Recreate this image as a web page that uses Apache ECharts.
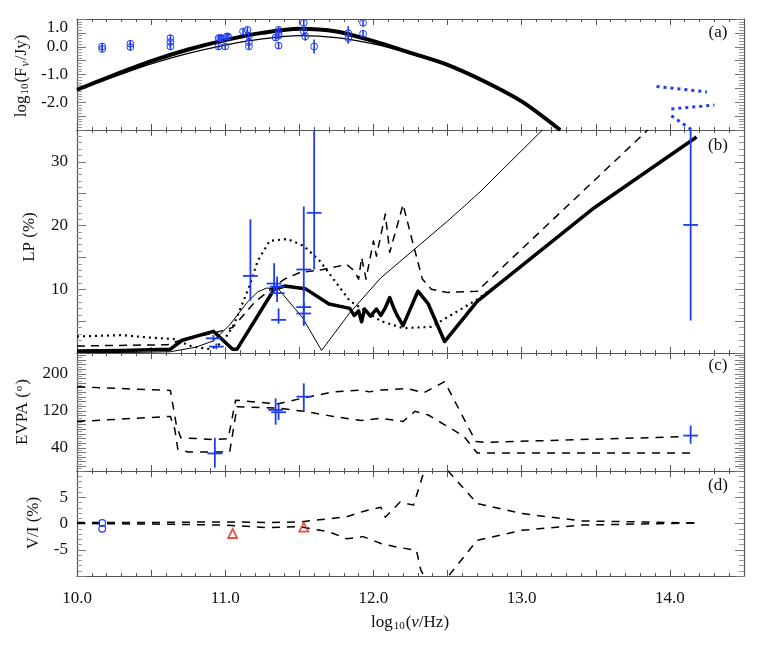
<!DOCTYPE html>
<html><head><meta charset="utf-8">
<script src="https://cdn.jsdelivr.net/npm/echarts@6/dist/echarts.min.js"></script>
<style>html,body{margin:0;padding:0;background:#fff}#c{width:763px;height:654px}</style>
</head><body><div id="c"></div>
<script>
// ---------- data ----------
const xTickLabels = [10, 11, 12, 13, 14];
// panel (a) log10 flux
const fluxThick = [[10.0,-1.55],[10.25,-1.02],[10.5,-0.52],[10.75,-0.1],[11.0,0.24],[11.25,0.5],[11.5,0.65],[11.75,0.55],[12.0,0.2],[12.25,-0.22],[12.5,-0.65],[12.75,-1.25],[13.0,-1.97],[13.26,-3.0]];
const fluxThin = [[10.0,-1.55],[10.25,-1.08],[10.5,-0.62],[10.75,-0.24],[11.0,0.06],[11.25,0.28],[11.5,0.40],[11.75,0.33],[12.0,0.1],[12.25,-0.25],[12.5,-0.68],[12.75,-1.27],[13.0,-1.98],[13.26,-3.0]];
// [x, y, err]
const fluxObs = [[10.17,0.01,0.05],[10.17,-0.08,0.05],[10.36,0.11,0.05],[10.36,-0.01,0.05],[10.63,0.31,0.05],[10.63,0.17,0.05],[10.63,0.01,0.05],
  [10.955,0.31,0.08],[10.966,0.31,0.08],[10.978,0.31,0.08],[10.955,0.01,0.08],[11.0,0.01,0.08],[11.01,0.37,0.05],[11.02,0.37,0.05],
  [11.12,0.55,0.08],[11.15,0.61,0.1],[11.16,0.4,0.1],[11.16,0.16,0.12],[11.16,0.01,0.1],
  [11.34,0.33,0.1],[11.36,0.61,0.08],[11.36,0.49,0.1],[11.36,0.40,0.1],[11.36,0.04,0.05],
  [11.53,0.86,0.08],[11.53,0.55,0.15],[11.54,0.37,0.15],[11.60,0.01,0.25],
  [11.83,0.49,0.25],[11.83,0.31,0.2],[11.93,0.86,0.08],[11.93,0.47,0.12]];
const hiFreq1 = [[13.91,-1.43],[14.25,-1.63]];
const hiFreq2 = [[14.01,-2.24],[14.30,-2.10]];
const hiFreq3 = [[14.01,-2.49],[14.15,-3.0]];
// panel (b) LP %
const lpThick = [[10.0,0.3],[10.3,0.4],[10.63,0.6],[10.71,2.0],[10.92,3.4],[11.05,0.6],[11.08,0.6],[11.33,10.0],[11.40,10.5],[11.54,10.1],[11.70,7.7],[11.84,7.0],[11.87,5.9],[11.90,6.6],[11.92,4.9],[11.94,6.9],[11.98,5.8],[12.02,6.9],[12.05,5.9],[12.08,7.1],[12.11,8.7],[12.14,6.9],[12.16,5.9],[12.20,4.3],[12.30,9.7],[12.37,7.7],[12.48,1.8],[12.70,8.1],[13.49,22.8],[14.18,33.9]];
const lpThin = [[10.0,0.05],[10.4,0.1],[10.63,0.2],[10.80,0.9],[10.92,1.9],[11.03,4.4],[11.15,8.0],[11.22,9.6],[11.28,10.2],[11.36,10.0],[11.52,5.6],[11.65,0.4],[11.84,6.3],[12.05,11.8],[12.5,20.7],[12.72,25.3],[13.14,35]];
const lpDashed = [[10.0,1.1],[10.61,1.3],[10.71,2.1],[10.92,3.1],[11.05,4.0],[11.20,8.0],[11.33,10.4],[11.40,11.6],[11.50,12.6],[11.66,13.1],[11.82,13.9],[11.87,12.9],[11.90,11.6],[11.92,15.0],[11.95,11.6],[12.00,17.6],[12.02,15.2],[12.08,21.8],[12.11,15.8],[12.20,23.3],[12.26,17.8],[12.33,11.6],[12.39,10.0],[12.50,9.5],[12.70,9.7],[13.85,35]];
const lpDotted = [[10.0,2.6],[10.3,2.8],[10.5,2.4],[10.65,2.2],[10.78,1.0],[10.90,0.6],[10.98,1.6],[11.06,4.5],[11.16,10.3],[11.22,14.5],[11.30,17.6],[11.42,17.9],[11.53,16.8],[11.64,14.4],[11.84,8.2],[12.05,5.0],[12.20,3.9],[12.39,4.1],[12.70,8.4],[12.90,11.8]];
// [x, y, low, high]
const lpObs = [[10.92,2.3,1.8,2.8],[10.94,1.0,0.6,1.5],[11.17,12.1,8.2,21.0],[11.33,10.9,9.5,14.1],[11.35,10.4,9.0,12.0],[11.35,9.4,8.0,11.0],[11.36,5.2,4.6,7.0],[11.53,13.1,9.0,23.0],[11.53,7.2,4.3,10.5],[11.53,6.2,4.3,8.0],[11.60,22.0,13.1,40],[14.14,20.1,5.1,40]];
// panel (c) EVPA
const evpaUpper = [[10.0,172],[10.63,164],[10.67,90],[10.70,62],[10.92,58],[11.02,60],[11.07,143],[11.35,135],[11.53,148],[11.73,161],[11.92,165],[11.97,161],[12.05,165],[12.23,168],[12.34,159],[12.48,183],[12.69,54],[12.75,52],[14.07,64]];
const evpaLower = [[10.0,97],[10.63,108],[10.66,80],[10.68,37],[10.75,31],[11.03,31],[11.08,129],[11.35,126],[11.53,119],[11.73,108],[11.92,99],[12.05,104],[12.20,97],[12.28,119],[12.37,111],[12.61,65],[12.70,29],[14.18,29]];
const evpaObs = [[10.93,27.9,-2.7,61.6],[11.34,122,90,147],[11.36,117,100,135],[11.53,150.7,118.6,179.4],[14.14,66.5,49,88]];
// panel (d) V/I
const vUpper = [[10.0,0.2],[10.5,0.2],[11.0,0.3],[11.3,0.2],[11.5,0.3],[11.7,0.9],[11.82,1.3],[11.93,2.3],[12.05,3.1],[12.08,1.2],[12.18,4.1],[12.27,3.5],[12.34,9.8],[12.42,14],[12.51,9.8],[12.70,3.8],[13.0,1.9],[13.4,0.5],[14.18,0.1]];
const vLower = [[10.0,0.0],[10.5,-0.1],[11.0,-0.3],[11.3,-0.8],[11.5,-0.6],[11.7,-1.6],[11.82,-2.9],[11.93,-2.5],[12.05,-3.8],[12.16,-4.5],[12.29,-5.1],[12.32,-8.9],[12.42,-14],[12.52,-9.5],[12.70,-3.2],[13.0,-1.3],[13.4,-0.3],[14.18,0.1]];
const vCirc = [[10.17,0.1],[10.17,-1.0]];
const vTri = [[11.05,-1.9],[11.53,-0.7]];

// ---------- layout ----------
const BLUE = '#1f3cf0', RED = '#e3261c', AX = '#555';
const FONT = '"Liberation Serif","DejaVu Serif",serif';
const grids = [
  {left:77, right:19, top:19, height:111},
  {left:77, right:19, top:130, height:223},
  {left:77, right:19, top:353, height:118},
  {left:77, right:19, top:471, height:105}
];
const yCfg = [
  {min:-3, max:1, interval:0.5, split:5, labels:[-2,-1,0,1], fmt:v=>v.toFixed(1)},
  {min:0, max:35, interval:5, split:5, labels:[10,20,30], fmt:v=>String(v)},
  {min:-10, max:245, interval:10, split:2, labels:[40,120,200], fmt:v=>String(v)},
  {min:-10, max:10, interval:5, split:5, labels:[-5,0,5], fmt:v=>String(v)}
];
const xAxes = [], yAxes = [];
grids.forEach((g, i) => {
  ['bottom','top'].forEach((pos, k) => {
    xAxes.push({
      type:'value', gridIndex:i, position:pos, min:10, max:14.5, interval:0.5,
      axisLine:{show:true, onZero:false, lineStyle:{color:AX, width:1.2}},
      axisTick:{show:true, inside:true, length:6, lineStyle:{color:AX}},
      minorTick:{show:true, splitNumber:5, length:3, lineStyle:{color:AX}},
      splitLine:{show:false},
      axisLabel:{show: i===3 && k===0, customValues:xTickLabels, formatter:v=>v.toFixed(1),
        fontFamily:FONT, fontSize:17, color:'#111', margin:14}
    });
  });
  const c = yCfg[i];
  ['left','right'].forEach((pos, k) => {
    yAxes.push({
      type:'value', gridIndex:i, position:pos, min:c.min, max:c.max, interval:c.interval,
      axisLine:{show:true, onZero:false, lineStyle:{color:AX, width:1.2}},
      axisTick:{show:true, inside:true, length:9, lineStyle:{color:'#777'}},
      minorTick:{show:true, splitNumber:c.split, length:5, lineStyle:{color:'#999'}},
      splitLine:{show:false},
      axisLabel:{show:k===0, customValues:c.labels, formatter:c.fmt,
        fontFamily:FONT, fontSize:17, color:'#111', margin:9,
        verticalAlignMaxLabel: i===0 ? 'top' : undefined}
    });
  });
});

function clampY(cs, v){ return Math.max(cs.y, Math.min(cs.y + cs.height, v)); }
function renderCircleErr(params, api){
  const x = api.value(0), y = api.value(1), e = Math.max(api.value(2), 0.12);
  const cs = params.coordSys;
  const c = api.coord([x,y]), t = api.coord([x,y+e]), b = api.coord([x,y-e]);
  return {type:'group', children:[
    {type:'line', shape:{x1:c[0], y1:clampY(cs,t[1]), x2:c[0], y2:clampY(cs,b[1])}, style:{stroke:BLUE, lineWidth:1.6}},
    {type:'circle', shape:{cx:c[0], cy:c[1], r:3.4}, style:{fill:'none', stroke:BLUE, lineWidth:1}}
  ]};
}
function renderCross(params, api){
  const x = api.value(0), y = api.value(1), lo = api.value(2), hi = api.value(3);
  const cs = params.coordSys;
  const c = api.coord([x,y]), t = api.coord([x,hi]), b = api.coord([x,lo]);
  const l = api.coord([x-0.05,y]), r = api.coord([x+0.05,y]);
  return {type:'group', children:[
    {type:'line', shape:{x1:c[0], y1:clampY(cs,t[1]), x2:c[0], y2:clampY(cs,b[1])}, style:{stroke:BLUE, lineWidth:1.8}},
    {type:'line', shape:{x1:l[0], y1:c[1], x2:r[0], y2:c[1]}, style:{stroke:BLUE, lineWidth:1.8}}
  ]};
}
function renderCircle(params, api){
  const c = api.coord([api.value(0), api.value(1)]);
  return {type:'circle', shape:{cx:c[0], cy:c[1], r:3.4}, style:{fill:'none', stroke:BLUE, lineWidth:1.2}};
}
function line(data, gi, style, smooth){
  return {type:'line', xAxisIndex:gi*2, yAxisIndex:gi*2, data, showSymbol:false, symbol:'none',
    smooth: smooth || false, clip:true, lineStyle:Object.assign({color:'#000', cap:'butt', join:'round'}, style), silent:true, animation:false, z:2};
}
const series = [
  line(fluxThin, 0, {width:1.3}, 0.3),
  line(fluxThick, 0, {width:4}, 0.3),
  {type:'custom', xAxisIndex:0, yAxisIndex:0, data:fluxObs, renderItem:renderCircleErr, animation:false, z:3},
  line(hiFreq1, 0, {width:3, color:BLUE, type:[3,4]}),
  line(hiFreq2, 0, {width:3, color:BLUE, type:[3,4]}),
  line(hiFreq3, 0, {width:3, color:BLUE, type:[3,4]}),

  line(lpThin, 1, {width:1}),
  line(lpDashed, 1, {width:1.5, type:[8,6]}),
  line(lpDotted, 1, {width:2.2, type:[2,4]}),
  line(lpThick, 1, {width:3.5}),
  {type:'custom', xAxisIndex:2, yAxisIndex:2, data:lpObs, renderItem:renderCross, animation:false, z:3},

  line(evpaUpper, 2, {width:1.5, type:[8,7]}),
  line(evpaLower, 2, {width:1.5, type:[8,7]}),
  {type:'custom', xAxisIndex:4, yAxisIndex:4, data:evpaObs, renderItem:renderCross, animation:false, z:3},

  line(vUpper, 3, {width:1.5, type:[8,7]}),
  line(vLower, 3, {width:1.5, type:[8,7]}),
  {type:'custom', xAxisIndex:6, yAxisIndex:6, data:vCirc, renderItem:renderCircle, animation:false, z:3},
  {type:'scatter', xAxisIndex:6, yAxisIndex:6, data:vTri, symbol:'triangle', symbolSize:9,
    itemStyle:{color:'rgba(0,0,0,0)', borderColor:RED, borderWidth:1.8}, animation:false, z:3}
];

const rich = {
  n:{fontFamily:FONT, fontSize:17, color:'#111'},
  s:{fontFamily:FONT, fontSize:11, color:'#111', padding:[7,1,0,1]},
  sup:{fontFamily:FONT, fontSize:11, color:'#111', padding:[0,1,8,1]},
  i:{fontFamily:FONT, fontSize:17, fontStyle:'italic', color:'#111'},
  si:{fontFamily:FONT, fontSize:12, fontStyle:'italic', color:'#111', padding:[7,1,0,1]}
};
function vText(x, y, text){
  return {type:'text', x, y, rotation:Math.PI/2, silent:true,
    style:{text, rich, fontFamily:FONT, fontSize:17, fill:'#111', align:'center', verticalAlign:'middle'}};
}
function hText(x, y, text){
  return {type:'text', x, y, silent:true,
    style:{text, rich, fontFamily:FONT, fontSize:17, fill:'#111', align:'center', verticalAlign:'middle'}};
}
const graphic = [
  vText(22, 76, '{n|log}{s|10}{n|(F}{si|ν}{n|/Jy)}'),
  vText(30, 237, '{n|LP (%)}'),
  vText(23, 412, '{n|EVPA (}{sup|o}{n|)}'),
  vText(34, 523, '{n|V/I (%)}'),
  hText(410, 623, '{n|log}{s|10}{n|(}{i|ν}{n|/Hz)}'),
  hText(718, 33, '{n|(a)}'),
  hText(718, 146, '{n|(b)}'),
  hText(718, 366, '{n|(c)}'),
  hText(718, 486, '{n|(d)}')
];

const chart = echarts.init(document.getElementById('c'), null, {renderer:'canvas'});
chart.setOption({animation:false, backgroundColor:'#fff', grid:grids, xAxis:xAxes, yAxis:yAxes, series, graphic});
</script></body></html>
